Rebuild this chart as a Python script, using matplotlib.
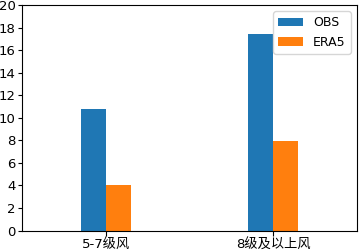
import numpy as np
import matplotlib
matplotlib.use("Agg")
import matplotlib.pyplot as plt

plt.rcParams['font.family'] = ['DejaVu Sans', 'Noto Sans CJK SC']

categories = ["5-7级风", "8级及以上风"]
obs = [10.8, 17.4]
era5 = [4.0, 7.9]

x = np.arange(len(categories))
width = 0.15

fig, ax = plt.subplots(figsize=(3.63, 2.52), dpi=100)
ax.bar(x - width / 2, obs, width, label="OBS", color="#1f77b4")
ax.bar(x + width / 2, era5, width, label="ERA5", color="#ff7f0e")
ax.set_xticks(x)
ax.set_xticklabels(categories)
ax.set_xlim(-0.5, 1.5)
ax.set_ylim(0, 20)
ax.set_yticks(np.arange(0, 21, 2))
ax.tick_params(axis="x", labelsize=9.5, pad=2.5)
ax.tick_params(axis="y", labelsize=9.5, pad=1.5, length=3)
ax.legend(loc="upper right", fontsize=9)

fig.subplots_adjust(left=0.0606, right=0.9835, top=0.98, bottom=0.085)
fig.savefig("out.png", dpi=100)
